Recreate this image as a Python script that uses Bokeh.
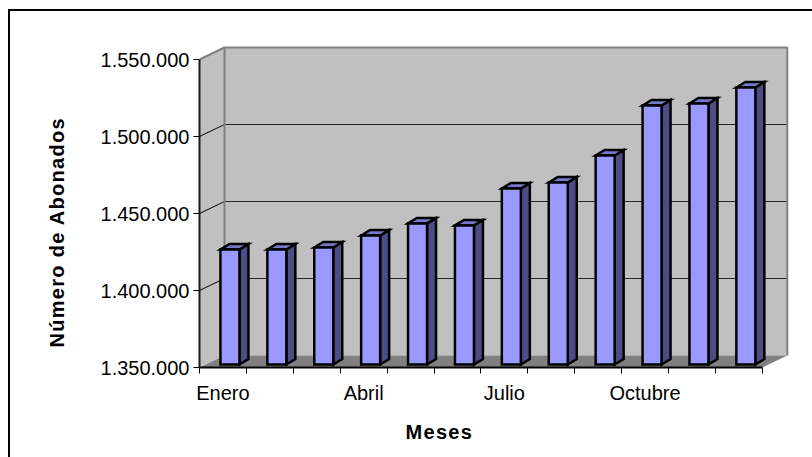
from bokeh.plotting import figure
from bokeh.models import FixedTicker, LinearAxis, Title
from bokeh.embed import file_html
from bokeh.resources import INLINE

# Data
months = ["Enero", "Febrero", "Marzo", "Abril", "Mayo", "Junio", "Julio",
          "Agosto", "Septiembre", "Octubre", "Noviembre", "Diciembre"]
subscribers = [1424700, 1424700, 1426000, 1433800, 1441600, 1440300,
               1464300, 1468200, 1485700, 1518200, 1519500, 1529900]
value_ticks = [1350000, 1400000, 1450000, 1500000, 1550000]
value_labels = ["1.350.000", "1.400.000", "1.450.000", "1.500.000", "1.550.000"]
shown_months = ["Enero", "Abril", "Julio", "Octubre"]

# Layout
W, H = 812, 457
LEFT, RIGHT, TOP, BOTTOM = 199, 790, 44, 367
PX_X = 46.9            # pixels per category
PX_Y = 77 / 50000      # pixels per value unit
dx = lambda px: px / PX_X
dy = lambda px: px / PX_Y
y0 = value_ticks[0]
y_top = value_ticks[-1]
n = len(months)

p = figure(width=W, height=H, output_backend="svg", toolbar_location=None,
           x_range=(0, (RIGHT - LEFT) / PX_X),
           y_range=(y0, y0 + (BOTTOM - TOP) / PX_Y),
           x_axis_type=None, y_axis_type=None,
           min_border_left=LEFT, min_border_right=W - RIGHT,
           min_border_top=TOP, min_border_bottom=H - BOTTOM)
p.outline_line_color = None
p.grid.visible = False
p.background_fill_color = "white"
p.border_fill_color = "white"

wx, wy = dx(25), dy(12)
WALL, FLOOR, EDGE = "#C0C0C0", "#808080", "#808080"

# Walls and floor
p.patch([0, wx, wx, 0], [y0, y0 + wy, y_top + wy, y_top], fill_color=WALL, line_color=None)
p.patch([wx, n + wx, n + wx, wx], [y0 + wy, y0 + wy, y_top + wy, y_top + wy], fill_color=WALL, line_color=None)
p.patch([0, wx, n + wx, n], [y0, y0 + wy, y0 + wy, y0], fill_color=FLOOR, line_color=None)

# Gridlines on the walls
for v in value_ticks[1:-1]:
    p.line([0, wx, n + wx], [v, v + wy, v + wy], line_color="#262626", line_width=1.2)

# Wall edges
p.line([0, wx, n + wx, n + wx], [y_top, y_top + wy, y_top + wy, y0 + wy], line_color=EDGE, line_width=2)
p.line([wx, wx], [y0 + wy, y_top + wy], line_color=EDGE, line_width=2)

# Bars
bw = 19 / PX_X
off_x, off_y = dx(7), dy(3)
sx, sy = dx(9), dy(5.5)
L = [i + 0.5 + off_x - bw / 2 for i in range(n)]
R = [a + bw for a in L]
base = y0 + off_y
tops = [v + off_y for v in subscribers]
BAR = dict(line_color="black", line_width=2.5, line_join="miter")
p.patches([[r, r + sx, r + sx, r] for r in R],
          [[base, base + sy, t + sy, t] for t in tops],
          fill_color="#4D4D85", **BAR)
p.patches([[a, a + sx, r + sx, r] for a, r in zip(L, R)],
          [[t, t + sy, t + sy, t] for t in tops],
          fill_color="#7878C8", **BAR)
p.quad(left=L, right=R, bottom=base, top=tops, fill_color="#9999FF", **BAR)

# Axes
TICK = "Liberation Sans"
yax = LinearAxis(ticker=FixedTicker(ticks=value_ticks), bounds=(y0, y_top),
                 major_label_overrides=dict(zip(value_ticks, value_labels)))
yax.axis_line_color = "#1a1a1a"
yax.axis_line_width = 2
yax.major_tick_line_color = "black"
yax.major_tick_out = 6
yax.major_tick_in = 0
yax.major_label_standoff = 4
yax.major_label_text_font = TICK
yax.major_label_text_font_size = "20px"
yax.major_label_text_color = "black"
yax.minor_tick_line_color = None
p.add_layout(yax, "left")

label_at = [months.index(m) + 0.5 for m in shown_months]
xax = LinearAxis(ticker=FixedTicker(ticks=label_at, minor_ticks=list(range(n + 1))),
                 bounds=(0, n),
                 major_label_overrides=dict(zip(label_at, shown_months)))
xax.axis_line_color = "black"
xax.axis_line_width = 2
xax.major_tick_line_color = None
xax.major_tick_out = 6
xax.major_tick_in = 0
xax.minor_tick_line_color = "black"
xax.minor_tick_out = 6
xax.minor_tick_in = 0
xax.major_label_standoff = 8
xax.major_label_text_font = TICK
xax.major_label_text_font_size = "20px"
xax.major_label_text_color = "black"
p.add_layout(xax, "below")

# Axis titles
title_style = dict(text_font=TICK, text_font_style="bold", text_font_size="20px",
                   text_color="black", align="left")
p.add_layout(Title(text="Meses", offset=405 - LEFT, standoff=24, **title_style), "below")
p.add_layout(Title(text="Número de Abonados", offset=BOTTOM - 347, standoff=60, **title_style), "left")

# Outer frame of the chart: only its left and top edges fall inside the page
p.stylesheets = [""":host { position: relative; }
:host::after { content: ""; position: absolute; left: 8px; top: 9px; right: 0; bottom: 0;
  border-left: 2px solid #000; border-top: 2px solid #000;
  pointer-events: none; z-index: 10; }"""]

# The reference's bold titles are letter-spaced; Bokeh has no such property.
spacing_script = """<script>
(function () {
  const wanted = ["Meses", "Número de Abonados"];
  const walk = (root) => {
    root.querySelectorAll('*').forEach((el) => {
      if (el.shadowRoot) walk(el.shadowRoot);
      if (el.tagName && el.tagName.toLowerCase() === 'text' && wanted.includes(el.textContent)) {
        el.setAttribute('letter-spacing', '1.3');
        el.style.letterSpacing = '1.3px';
      }
    });
  };
  let k = 0;
  const id = setInterval(() => { walk(document); if (++k > 40) clearInterval(id); }, 50);
})();
</script>
</body>"""

html = file_html(p, INLINE).replace("</body>", spacing_script)
open("out.html", "w", encoding="utf-8").write(html)
